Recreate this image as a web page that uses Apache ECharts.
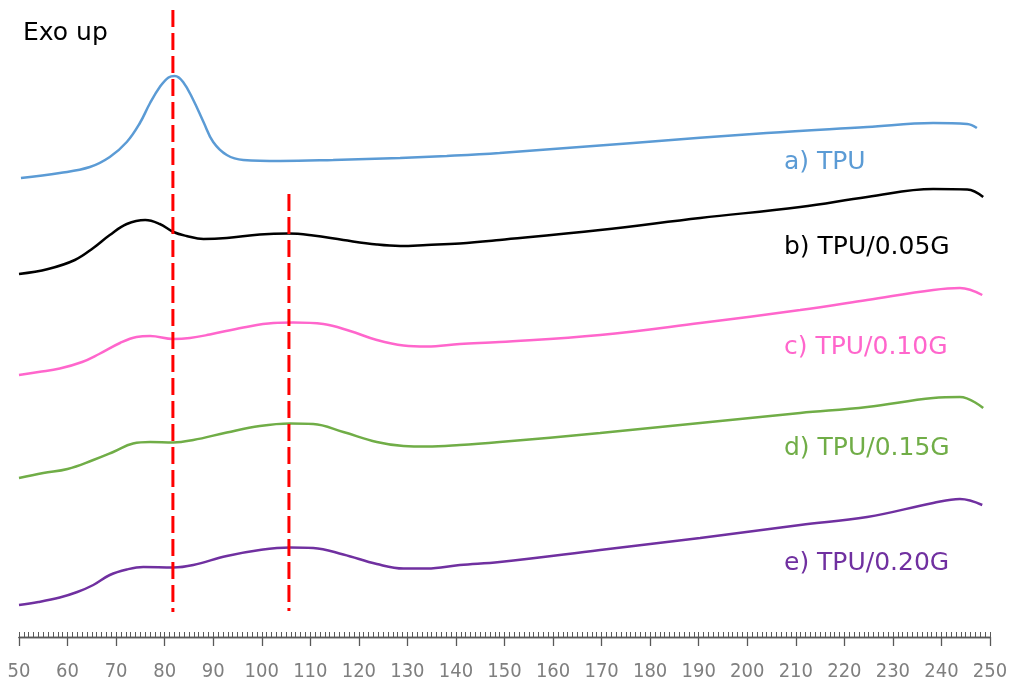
<!DOCTYPE html>
<html>
<head>
<meta charset="utf-8">
<script src="https://cdn.jsdelivr.net/npm/echarts@6/dist/echarts.min.js"></script>
<style>
  html, body { margin: 0; padding: 0; background: #fff; }
  #chart { width: 1011px; height: 687px; }
</style>
</head>
<body>
<div id="chart"></div>
<script>
// temperature (°C) / heat flow (arbitrary offset units, exo up)
var curveA = [[50.4,459],[58.4,464],[64.6,470],[68.7,480],[72.2,495],[74.9,514],[77,534],[79,550],[80.8,559.5],
    [82.1,561],[83.8,555],[85.9,537],[88,515],[90,495],[92.8,482],[96.2,477],[103.8,476],[114.7,477],
    [128.5,479],[138.1,481],[149,484],[176.5,494],[204,504],[224.7,510],[238.3,514],[245.3,513],[247.3,509]];
var curveB = [[50,363],[56,368],[61.5,377],[65.3,389],[68.7,402],[72.2,413],[76,417],[79,413],[81.8,405],
    [84.5,401],[88,398],[92.8,399],[99.6,402.5],[105.5,403.5],[110.6,401.5],[116.8,397],[123.7,392.5],
    [128.5,391],[134,392],[140.8,393.5],[149,397],[169.7,407],[190.3,419],[210.9,430],[224.7,440],
    [238.3,448],[245.3,447.5],[248.6,440]];
var curveC = [[50,262],[54,265],[58.4,268.5],[63,275],[66.5,283],[70.8,294],[74.2,300],[77,301],[81.8,298],
    [85.2,299],[89.3,302.5],[96.2,309.5],[102.4,314],[106.5,314.5],[112.7,313],[118.2,306],[123.7,297],
    [129.2,291.5],[134,290.5],[140.8,293],[149,295],[169.7,302],[190.3,314],[210.9,327],[224.7,337],
    [238.3,347],[243.8,349],[248.4,342]];
var curveD = [[50,159],[55,164],[60,168],[65.3,177],[69.4,185],[73.5,193.5],[77,195],[81.8,194.5],[85.9,197],
    [92.8,204.5],[99.6,211],[105.8,213.5],[110.6,213],[116.8,205],[123.7,195],[129.2,191],[134,190.5],
    [140.8,192],[149,195],[169.7,204],[190.3,214],[210.9,224],[224.7,230],[238.3,239],[243.8,240],[248.6,229]];
var curveE = [[50,32],[54,35],[58.4,39.5],[62,45],[65.3,52],[68.7,62],[72.2,67.5],[75.6,70],[81.8,69.5],[85.9,72],
    [92.8,81],[99.6,87],[105.8,89.5],[110.6,89],[116.8,82.5],[123.7,73],[129.2,68.5],[134,68.5],[140.8,72],
    [149,75],[169.7,87],[190.3,99],[210.9,112],[224.7,120],[238.3,134],[243.8,138],[248.4,132]];
var markLine1 = [[81.7,627],[81.7,25]];
var markLine2 = [[105.6,443],[105.6,26]];

var names = ['a) TPU', 'b) TPU/0.05G', 'c) TPU/0.10G', 'd) TPU/0.15G', 'e) TPU/0.20G'];
var colors = ['#5B9BD5', '#000000', '#FF66CC', '#70AD47', '#7030A0'];
var labelTops = [150, 235, 335, 436, 551];

var chart = echarts.init(document.getElementById('chart'), null, {renderer: 'canvas'});

var curves = [curveA, curveB, curveC, curveD, curveE];
var series = curves.map(function (d, i) {
    return {
        name: names[i],
        type: 'line',
        data: d,
        xAxisIndex: 0,
        showSymbol: false,
        smooth: 0.4,
        lineStyle: {color: colors[i], width: 2.5},
        z: 3
    };
});
[markLine1, markLine2].forEach(function (d) {
    series.push({
        type: 'line',
        data: d,
        xAxisIndex: 0,
        showSymbol: false,
        lineStyle: {color: '#FF0000', width: 3, type: [17, 6]},
        z: 4
    });
});

var graphics = names.map(function (n, i) {
    return {
        type: 'text',
        left: 784,
        top: labelTops[i],
        style: {text: n, fill: colors[i], font: '25px "DejaVu Sans"'}
    };
});
graphics.push({
    type: 'text',
    left: 23,
    top: 21,
    style: {text: 'Exo up', fill: '#000', font: '25px "DejaVu Sans"'}
});

var option = {
    animation: false,
    grid: {left: 19, right: 21, top: 0, bottom: 50},
    xAxis: [{
        type: 'value',
        position: 'bottom',
        min: 50, max: 250, interval: 10,
        splitLine: {show: false},
        axisLine: {lineStyle: {color: '#595959', width: 1.3}},
        axisTick: {length: 9, lineStyle: {color: '#595959', width: 1.3}},
        axisLabel: {color: '#7f7f7f', fontSize: 20, fontFamily: '"DejaVu Sans Condensed"', margin: 25}
    }, {
        type: 'value',
        position: 'bottom',
        min: 50, max: 250, interval: 1,
        splitLine: {show: false},
        axisLine: {lineStyle: {color: '#595959', width: 1.3}},
        axisTick: {inside: true, length: 5, lineStyle: {color: '#595959', width: 1}},
        axisLabel: {show: false}
    }],
    yAxis: {
        type: 'value', min: 0, max: 637, show: false
    },
    series: series,
    graphic: graphics
};
chart.setOption(option);
</script>
</body>
</html>
